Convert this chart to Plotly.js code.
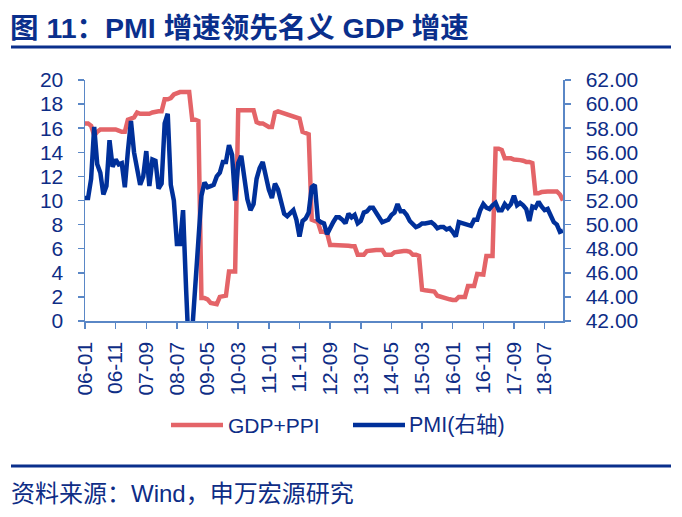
<!DOCTYPE html>
<html>
<head>
<meta charset="utf-8">
<script src="https://cdn.plot.ly/plotly-3.0.1.min.js"></script>
<style>
  html, body { margin: 0; padding: 0; background: #ffffff; }
  #chart { width: 682px; height: 517px; }
</style>
</head>
<body>
<div id="chart"></div>
<script>
// ---------- data ----------
const startYear = 2006;
const monthCount = 157; // 2006-01 ... 2019-01

const tickLabels = ['06-01','06-11','07-09','08-07','09-05','10-03','11-01','11-11',
                    '12-09','13-07','14-05','15-03','16-01','16-11','17-09','18-07'];

// GDP+PPI (left axis)
const gdpPpi = [
  16.4,16.4,16.2, 15.4,15.7, 15.9,15.9,15.9,15.9,15.9,15.9, 15.8,15.7,15.7,
  16.7,16.8,16.9, 17.3,17.2,17.2,17.2,17.2,17.3, 17.4,17.4,17.4,
  18.4,18.4,18.5, 18.8,18.9,19.0,19.0,19.0,19.0, 16.7,16.7,16.6,
  1.9,1.9,1.8, 1.5,1.4,1.4, 2.0,2.1,2.1, 4.1,4.1,4.1,
  17.5,17.5,17.5,17.5,17.5,17.5, 16.5,16.4,16.4, 16.2,16.1,16.1,
  17.3,17.4,17.3, 17.2,17.2,17.1,17.0, 16.9,16.8, 15.7,15.6,15.5,
  8.4,8.3,8.2, 7.4,7.4,7.3,
  6.3,6.3,6.3,6.3,6.25,6.25,6.25,6.2,6.2, 5.5,5.5,5.5,
  5.8,5.85,5.85,5.9,5.9,5.9, 5.5,5.5,5.5, 5.7,5.75,5.8,5.8,5.8,5.75,
  5.5,5.5,5.4, 2.6,2.55,2.5,2.5,2.45,2.1, 2.0,1.9,1.9, 1.8,1.75,1.75,
  2.0,2.0,2.0, 2.9,2.9,2.9, 3.9,3.85,3.85, 5.4,5.4,5.4,
  14.3,14.3,14.2, 13.5,13.5,13.5, 13.4,13.4,13.35,13.3, 13.2,13.2,13.1,
  10.6,10.6,10.7, 10.75,10.75,10.75,10.75,10.75, 10.5,10.0
];

// PMI (right axis)
const pmi = [
  52.2,52.2,53.8,58.1,55.0,54.3,52.5,53.2,57.0,54.8,55.4,55.0,
  55.1,53.1,56.1,58.6,56.0,54.8,53.3,54.0,56.1,53.2,55.4,55.3,
  53.0,53.4,58.4,59.2,53.3,52.0,48.4,48.4,51.2,44.6,38.8,41.2,
  45.3,49.0,52.4,53.5,53.1,53.2,53.3,54.0,54.3,55.2,55.2,56.6,
  55.8,52.0,55.1,55.7,53.9,52.1,51.2,51.7,53.8,54.7,55.2,53.9,
  52.9,52.2,53.4,52.9,52.0,50.9,50.7,50.9,51.2,50.4,49.0,50.3,
  50.5,51.0,53.1,53.3,50.4,50.2,50.1,49.2,49.8,50.2,50.6,50.6,
  50.4,50.1,50.9,50.6,50.8,50.1,50.3,51.0,51.1,51.4,51.4,51.0,
  50.5,50.2,50.3,50.4,50.8,51.0,51.7,51.1,51.1,50.8,50.3,50.1,
  49.8,49.9,50.1,50.1,50.2,50.2,50.0,49.7,49.8,49.8,49.6,49.7,
  49.4,49.0,50.2,50.1,50.1,50.0,49.9,50.4,50.4,51.2,51.7,51.4,
  51.3,51.6,51.8,51.2,51.2,51.7,51.4,51.7,52.4,51.6,51.8,51.6,
  51.3,50.3,51.5,51.4,51.9,51.5,51.2,51.3,50.8,50.2,50.0,49.4,
  49.5
];

const seriesNames = ['GDP+PPI', 'PMI(右轴)'];
const titleText = '图 11：PMI 增速领先名义 GDP 增速';
const sourceText = '资料来源：Wind，申万宏源研究';

// month categories "YY-MM"
const months = [];
for (let k = 0; k < monthCount; k++) {
  const y = startYear + Math.floor(k / 12);
  const m = (k % 12) + 1;
  months.push(String(y % 100).padStart(2, '0') + '-' + String(m).padStart(2, '0'));
}

// ---------- styling ----------
const FONT = 'Liberation Sans, Arial, Noto Sans CJK SC, sans-serif';
const TEXT = '#0e2d86';
const NAVY = '#0a2f8c';
const RED = '#e46468';
const BLUE = '#00309a';
const AX = '#5a87c6';

const W = 682, H = 517;
const L = 85, R = 563, T = 80, B = 321;
const px = (x) => (x - L) / (R - L);
const py = (y) => (B - y) / (B - T);

const traces = [
  { x: months, y: gdpPpi, type: 'scatter', mode: 'lines', name: seriesNames[0],
    line: { color: RED, width: 4.5 }, yaxis: 'y' },
  { x: months, y: pmi, type: 'scatter', mode: 'lines', name: seriesNames[1],
    line: { color: BLUE, width: 4.5 }, yaxis: 'y2' }
];

const axisCommon = {
  showline: true, linecolor: AX, linewidth: 1.5,
  ticks: 'outside', ticklen: 6, tickwidth: 1.5, tickcolor: AX,
  showgrid: false, zeroline: false, fixedrange: true,
  tickfont: { family: FONT, size: 21, color: TEXT }
};

const layout = {
  width: W, height: H,
  margin: { l: L, r: W - R, t: T, b: H - B, pad: 0 },
  paper_bgcolor: '#ffffff', plot_bgcolor: '#ffffff',
  showlegend: false,
  font: { family: FONT, color: TEXT, size: 21 },
  title: {
    text: titleText, xref: 'container', yref: 'container',
    x: 10 / W, xanchor: 'left', y: 1 - 28 / H, yanchor: 'middle',
    font: { family: 'Liberation Sans, Noto Sans CJK SC, sans-serif', size: 28.5, weight: 'bold', color: NAVY }
  },
  xaxis: Object.assign({}, axisCommon, {
    type: 'category', range: [0, monthCount - 1],
    tickmode: 'array', tickvals: tickLabels, ticktext: tickLabels,
    tickangle: -90, ticklabelstandoff: 5
  }),
  yaxis: Object.assign({}, axisCommon, {
    range: [0, 20], tick0: 0, dtick: 2, ticklabelstandoff: 10
  }),
  yaxis2: Object.assign({}, axisCommon, {
    overlaying: 'y', side: 'right', anchor: 'x',
    range: [42, 62], tick0: 42, dtick: 2, tickformat: '.2f', ticklabelstandoff: 11
  }),
  shapes: [
    { type: 'line', xref: 'paper', yref: 'paper', x0: px(11), x1: px(671), y0: py(47), y1: py(47),
      line: { color: NAVY, width: 3 } },
    { type: 'line', xref: 'paper', yref: 'paper', x0: px(11), x1: px(671), y0: py(466), y1: py(466),
      line: { color: NAVY, width: 3 } },
    { type: 'line', xref: 'paper', yref: 'paper', x0: px(171), x1: px(223), y0: py(425), y1: py(425),
      line: { color: RED, width: 4.5 } },
    { type: 'line', xref: 'paper', yref: 'paper', x0: px(353), x1: px(405), y0: py(425), y1: py(425),
      line: { color: BLUE, width: 4.5 } }
  ],
  annotations: [
    { text: seriesNames[0], xref: 'paper', yref: 'paper', x: px(226), y: py(425),
      xanchor: 'left', yanchor: 'middle', showarrow: false,
      font: { family: FONT, size: 21, color: TEXT } },
    { text: seriesNames[1], xref: 'paper', yref: 'paper', x: px(407), y: py(425),
      xanchor: 'left', yanchor: 'middle', showarrow: false,
      font: { family: FONT, size: 21.5, color: TEXT } },
    { text: sourceText, xref: 'paper', yref: 'paper', x: px(9), y: py(493),
      xanchor: 'left', yanchor: 'middle', showarrow: false,
      font: { family: 'Liberation Sans, Noto Sans CJK SC, sans-serif', size: 24, color: TEXT } }
  ]
};

Plotly.newPlot('chart', traces, layout, { staticPlot: true, displayModeBar: false });
</script>
</body>
</html>
